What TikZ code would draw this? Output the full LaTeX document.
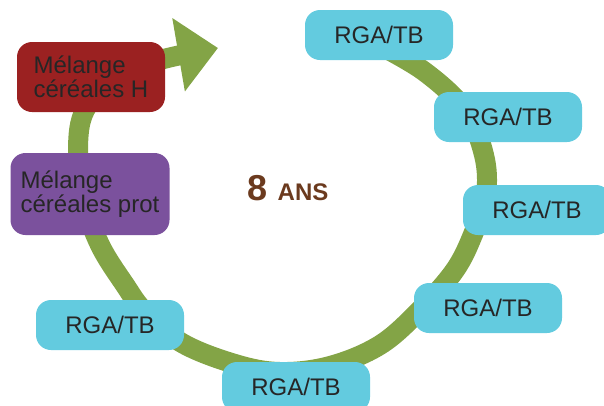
\documentclass[tikz,border=0pt]{standalone}
\usepackage{fontspec}
\setmainfont{Liberation Sans}
\usetikzlibrary{arrows.meta}
\definecolor{anneau}{HTML}{83A446}
\definecolor{prairie}{HTML}{63CBDF}
\definecolor{melH}{HTML}{9B2121}
\definecolor{melP}{HTML}{7B519D}
\definecolor{brun}{HTML}{6B3A1E}

\begin{document}
\begin{tikzpicture}[x=1pt,y=-1pt,
		culture/.style={rounded corners=15pt,inner sep=0pt,text=black!85,font=\fontsize{24}{24}\selectfont},
		rga/.style={culture,fill=prairie,minimum width=148pt,minimum height=50pt},
		melange/.style={culture,align=left}]
		\useasboundingbox (0,0) rectangle (604,405);
		\draw[line width=20pt,anneau,-{Triangle[length=40pt,width=72pt]}] plot[smooth,tension=0.6] coordinates {(379,45) (425,72) (465,110) (484,155) (486,195) (474,232) (455,270) (420,310) (380,345) (330,366) (280,372) (235,364) (182,343) (145,312) (125,285) (100,245) (84,200) (78,150) (85,110) (115,78) (160,60) (218,48)};
		\node[rga] (RgaA) at (379,35) {RGA/TB};
		\node[rga] (RgaB) at (508,117) {RGA/TB};
		\node[rga] (RgaC) at (537,210) {RGA/TB};
		\node[rga] (RgaD) at (488,308) {RGA/TB};
		\node[rga] (RgaE) at (296,387) {RGA/TB};
		\node[rga] (RgaF) at (110,325) {RGA/TB};
		\node[melange,fill=melP,minimum width=159pt,minimum height=82pt] (MelP) at (90,194) {Mélange\\céréales prot};
		\node[melange,fill=melH,minimum width=148pt,minimum height=70pt] (MelH) at (91,77) {Mélange\\céréales H};
		\node[brun,font=\bfseries] (Duree) at (288,188) {\fontsize{36}{36}\selectfont 8\ \fontsize{24}{24}\selectfont ANS};
	\end{tikzpicture}
\end{document}
